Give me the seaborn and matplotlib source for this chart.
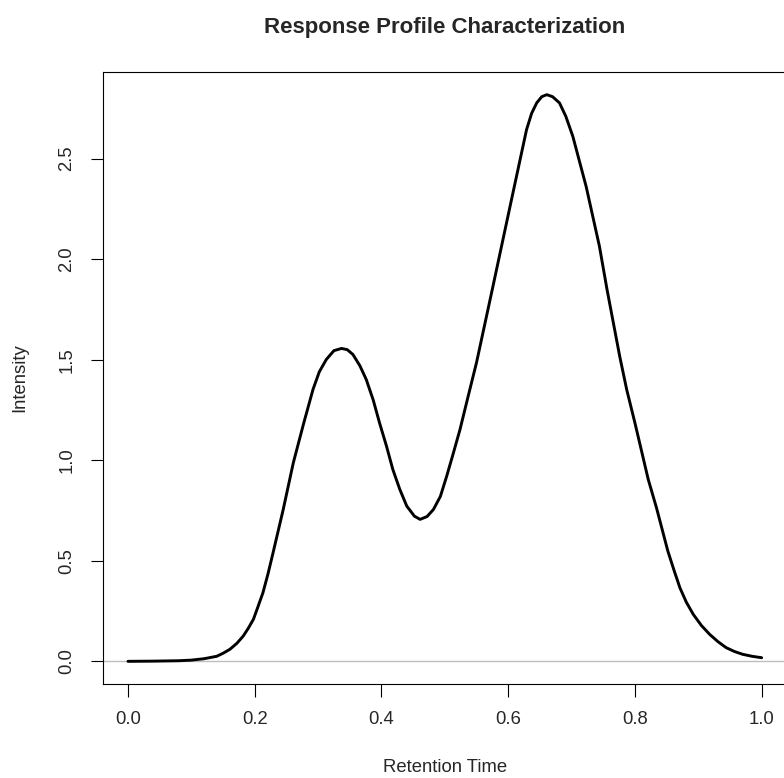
import matplotlib
matplotlib.use("Agg")
import matplotlib.pyplot as plt
import seaborn as sns
import pandas as pd

# Data
retention_time = [0.000, 0.040, 0.080, 0.100, 0.120, 0.140, 0.150, 0.161, 0.172, 0.182,
                  0.190, 0.198, 0.205, 0.213, 0.221, 0.229, 0.245, 0.261, 0.277, 0.292,
                  0.302, 0.313, 0.325, 0.337, 0.346, 0.355, 0.366, 0.376, 0.387, 0.397,
                  0.408, 0.418, 0.429, 0.440, 0.452, 0.461, 0.472, 0.482, 0.493, 0.503,
                  0.513, 0.524, 0.537, 0.550, 0.576, 0.603, 0.629, 0.637, 0.645, 0.653,
                  0.661, 0.670, 0.681, 0.691, 0.702, 0.723, 0.744, 0.756, 0.766, 0.776,
                  0.787, 0.800, 0.821, 0.834, 0.852, 0.862, 0.871, 0.881, 0.892, 0.905,
                  0.918, 0.931, 0.944, 0.957, 0.970, 0.985, 1.000]
intensity = [0.000, 0.001, 0.003, 0.006, 0.013, 0.025, 0.040, 0.060, 0.090, 0.126,
             0.165, 0.209, 0.270, 0.341, 0.435, 0.540, 0.755, 0.988, 1.180, 1.352,
             1.440, 1.501, 1.545, 1.556, 1.550, 1.526, 1.470, 1.402, 1.300, 1.186,
             1.070, 0.954, 0.855, 0.772, 0.722, 0.706, 0.720, 0.755, 0.820, 0.921,
             1.030, 1.153, 1.320, 1.485, 1.865, 2.263, 2.644, 2.725, 2.777, 2.808,
             2.818, 2.808, 2.777, 2.710, 2.611, 2.362, 2.064, 1.849, 1.683, 1.517,
             1.352, 1.186, 0.905, 0.764, 0.548, 0.450, 0.366, 0.295, 0.234, 0.178,
             0.134, 0.098, 0.068, 0.049, 0.035, 0.025, 0.018]
x_ticks = [0.0, 0.2, 0.4, 0.6, 0.8, 1.0]
y_ticks = [0.0, 0.5, 1.0, 1.5, 2.0, 2.5]

title = "Response Profile Characterization"
x_label = "Retention Time"
y_label = "Intensity"

sns.set_style("white")
plt.rcParams['font.family'] = ['Liberation Sans', 'DejaVu Sans']

df = pd.DataFrame({"t": retention_time, "v": intensity})

W, H = 784, 778
fig = plt.figure(figsize=(W / 100, H / 100), dpi=100)
left, right, top, bottom = 102.6, 787.0, 72.0, 684.0
ax = fig.add_axes([left / W, 1 - bottom / H, (right - left) / W, (bottom - top) / H])

ax.axhline(0, color="#BEBEBE", lw=1.0, zorder=1)
sns.lineplot(data=df, x="t", y="v", ax=ax, color="black", linewidth=2.1, zorder=3,
             solid_joinstyle="round", solid_capstyle="round")

ax.set_xlim(-0.04, 1.04)
vmax = max(intensity)
ax.set_ylim(-0.04 * vmax, vmax * 1.04)

ax.set_xticks(x_ticks)
ax.set_xticklabels([f"{v:.1f}" for v in x_ticks])
ax.set_yticks(y_ticks)
ax.set_yticklabels([f"{v:.1f}" for v in y_ticks])
for lab in ax.get_yticklabels():
    lab.set_rotation(90)
    lab.set_va("center")

ax.tick_params(axis="both", direction="out", length=9, width=0.8, color="black",
               labelsize=13.3, pad=10.5, bottom=True, left=True)
for s in ax.spines.values():
    s.set_visible(True)
    s.set_color("black")
    s.set_linewidth(0.8)

ax.set_xlabel("")
ax.set_ylabel("")
fig.text(((left + right) / 2) / W, 1 - 767 / H, x_label, ha="center", va="center", fontsize=13.3)
fig.text(20 / W, 1 - ((top + bottom) / 2) / H, y_label, ha="center", va="center",
         rotation=90, fontsize=13.3)
fig.text(((left + right) / 2) / W, 1 - 27 / H, title, ha="center", va="center",
         fontsize=16, fontweight="bold")

fig.savefig("out.png", dpi=100)
